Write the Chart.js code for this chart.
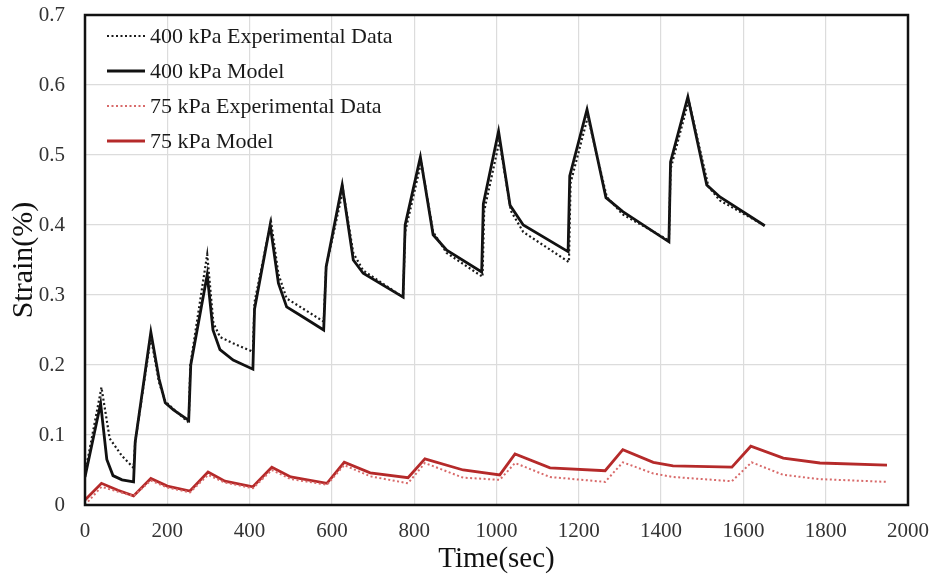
<!DOCTYPE html>
<html><head><meta charset="utf-8">
<script src="https://cdn.jsdelivr.net/npm/chart.js@4.4.0/dist/chart.umd.min.js"></script>
<style>html,body{margin:0;padding:0;background:#fff}#wrap{width:936px;height:577px;position:relative}</style>
</head><body><div id="wrap"><canvas id="c" width="936" height="577"></canvas></div>
<script>
const seriesLabels = ["400 kPa Experimental Data", "400 kPa Model", "75 kPa Experimental Data", "75 kPa Model"];

const t400Exp = [0,40,60,90,118, 122,160,180,195,215,252, 256,297,312,328,360,408, 412,452,470,490,523,580, 586,627,652,676,773, 778,817,846,879,966, 970,1007,1035,1065,1176, 1180,1222,1268,1307,1419, 1423,1467,1515,1543,1652];
const s400Exp = [0.045,0.168,0.095,0.07,0.053, 0.09,0.24,0.175,0.148,0.137,0.118, 0.2,0.358,0.26,0.24,0.231,0.219, 0.29,0.405,0.33,0.295,0.283,0.262, 0.34,0.45,0.36,0.335,0.297, 0.39,0.49,0.39,0.36,0.326, 0.42,0.52,0.42,0.39,0.347, 0.46,0.555,0.44,0.415,0.378, 0.48,0.578,0.455,0.435,0.399];

const t400Model = [0,38,53,68,90,118, 122,160,180,195,215,252, 257,297,311,328,360,408, 412,450,470,490,523,580, 586,625,652,676,773, 778,815,846,879,964, 968,1005,1033,1065,1174, 1178,1220,1266,1307,1419, 1423,1465,1511,1543,1652];
const s400Model = [0.04,0.145,0.065,0.042,0.036,0.033, 0.09,0.247,0.18,0.146,0.136,0.121, 0.2,0.329,0.25,0.222,0.207,0.194, 0.28,0.40,0.317,0.283,0.271,0.25, 0.34,0.457,0.35,0.331,0.297, 0.40,0.497,0.386,0.364,0.333, 0.43,0.534,0.428,0.40,0.362, 0.47,0.565,0.439,0.419,0.376, 0.49,0.583,0.457,0.44,0.399];

const t75Exp = [0,40,80,118, 160,200,255, 299,340,408, 454,500,588, 630,693,785, 826,919,1008, 1045,1130,1264, 1307,1381,1429,1572, 1620,1697,1786,1949];
const s75Exp = [0.0,0.026,0.019,0.013, 0.035,0.025,0.018, 0.043,0.032,0.024, 0.05,0.037,0.029, 0.057,0.041,0.031, 0.060,0.039,0.036, 0.06,0.04,0.033, 0.061,0.045,0.04,0.034, 0.061,0.043,0.037,0.033];

const t75Model = [0,40,80,118, 160,200,255, 299,340,408, 454,500,588, 630,693,785, 826,919,1008, 1045,1130,1264, 1307,1381,1429,1572, 1618,1697,1786,1949];
const s75Model = [0.007,0.031,0.021,0.013, 0.038,0.027,0.02, 0.047,0.034,0.026, 0.054,0.04,0.031, 0.061,0.046,0.039, 0.066,0.05,0.043, 0.073,0.053,0.049, 0.079,0.061,0.056,0.054, 0.084,0.067,0.06,0.057];

const xTicks = [0,200,400,600,800,1000,1200,1400,1600,1800,2000];
const yTicks = [0,0.1,0.2,0.3,0.4,0.5,0.6,0.7];

function pts(t, s){ return t.map((v,i)=>({x:v, y:s[i]})); }

const FONT = "'Liberation Serif','Times New Roman',serif";
const styles = [
  {color:'#1a1a1a', width:2.2, dash:[2,2.5]},
  {color:'#111111', width:2.8, dash:[]},
  {color:'#d86a6a', width:2.0, dash:[2,2.5]},
  {color:'#b52a2a', width:2.8, dash:[]}
];
const pairs = [[t400Exp,s400Exp],[t400Model,s400Model],[t75Exp,s75Exp],[t75Model,s75Model]];

const datasets = pairs.map((p,i)=>({
  label: seriesLabels[i],
  data: pts(p[0],p[1]),
  borderColor: styles[i].color,
  borderWidth: styles[i].width,
  borderDash: styles[i].dash,
  pointRadius: 0,
  tension: 0,
  fill: false
}));

const framePlugin = {
  id:'frameLegend',
  afterDraw(chart){
    const {ctx, chartArea:a} = chart;
    ctx.save();
    ctx.strokeStyle = '#111';
    ctx.lineWidth = 2.5;
    ctx.strokeRect(a.left, a.top, a.right-a.left, a.bottom-a.top);
    const x0 = 107, x1 = 145, tx = 150;
    const rows = [36, 71, 106, 141];
    ctx.font = "22px " + FONT;
    ctx.textBaseline = 'middle';
    ctx.fillStyle = '#1a1a1a';
    seriesLabels.forEach((lab,i)=>{
      const st = styles[i];
      ctx.beginPath();
      ctx.setLineDash(st.dash);
      ctx.strokeStyle = st.color;
      ctx.lineWidth = st.width;
      ctx.moveTo(x0, rows[i]); ctx.lineTo(x1, rows[i]);
      ctx.stroke();
      ctx.setLineDash([]);
      ctx.fillText(lab, tx, rows[i]+1);
    });
    ctx.restore();
  }
};

new Chart(document.getElementById('c'), {
  type:'line',
  data:{datasets},
  options:{
    responsive:false,
    animation:false,
    devicePixelRatio:1,
    layout:{padding:{top:15, right:28, left:0, bottom:0}},
    plugins:{legend:{display:false}, tooltip:{enabled:false}},
    scales:{
      x:{
        type:'linear', min:0, max:2000,
        afterBuildTicks(s){ s.ticks = xTicks.map(v=>({value:v})); },
        afterFit(s){ s.height = 72; s.paddingLeft = 0; s.paddingRight = 0; },
        grid:{color:'#dcdcdc', lineWidth:1.2, drawTicks:false},
        border:{display:false},
        ticks:{padding:14, color:'#333', font:{family:FONT, size:21}, maxRotation:0, callback:v=>String(v)},
        title:{display:true, text:'Time(sec)', color:'#111', font:{family:FONT, size:29}, padding:{top:0,bottom:0}}
      },
      y:{
        type:'linear', min:0, max:0.7,
        afterBuildTicks(s){ s.ticks = yTicks.map(v=>({value:v})); },
        afterFit(s){ s.width = 85; s.paddingTop = 0; s.paddingBottom = 0; },
        grid:{color:'#dcdcdc', lineWidth:1.2, drawTicks:false},
        border:{display:false},
        ticks:{padding:20, color:'#333', font:{family:FONT, size:21}, callback:v=> v===0 ? '0' : v.toFixed(1)},
        title:{display:true, text:'Strain(%)', color:'#111', font:{family:FONT, size:30}, padding:{top:6,bottom:0}}
      }
    }
  },
  plugins:[framePlugin]
});
</script>
</body></html>
